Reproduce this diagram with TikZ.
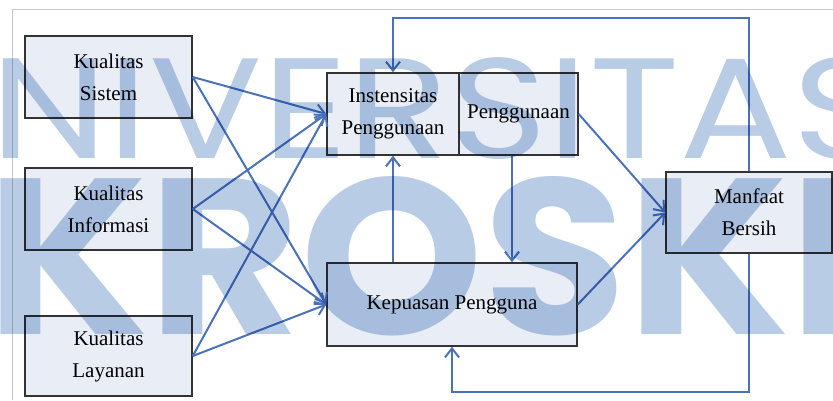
\documentclass[tikz,border=0pt]{standalone}
\usepackage{fontspec}
\setmainfont{Liberation Serif}
\newfontfamily\wmfont{Poppins}
\usetikzlibrary{arrows.meta}

\definecolor{boxfill}{HTML}{E8EDF6}
\definecolor{linkblue}{HTML}{4A72BC}
\definecolor{wmblue}{HTML}{B8CCE6}
\definecolor{framegray}{HTML}{C8C8C8}

\begin{document}
\begin{tikzpicture}
            [x=1pt, y=-1pt, >={Straight Barb[length=9pt,width=14pt]},
             box/.style={shape=rectangle, draw=black!80, line width=1.5pt, fill=boxfill,
                         align=center, inner sep=0pt, font=\fontsize{21}{32}\selectfont},
             link/.style={->, draw=linkblue, line width=2pt},
             mark text/.style={anchor=base west, inner sep=0pt, text=wmblue, transform shape}]
            \useasboundingbox (0,0) rectangle (833,400);
            \draw[framegray, line width=0.8pt] (12,400) -- (12,9.5) -- (833,9.5);

            \node[box, minimum width=167pt, minimum height=82pt] (sistem) at (108.5, 77) {Kualitas\\Sistem};
            \node[box, minimum width=167pt, minimum height=82pt] (informasi) at (108.5, 209) {Kualitas\\Informasi};
            \node[box, minimum width=167pt, minimum height=80pt] (layanan) at (108.5, 356) {Kualitas\\Layanan};
            \node[box, minimum width=132pt, minimum height=82pt] (intensitas) at (393, 114) {Instensitas\\Penggunaan};
            \node[box, minimum width=119pt, minimum height=82pt] (penggunaan) at (518.5, 114) {Penggunaan};
            \node[box, minimum width=250pt, minimum height=83pt] (kepuasan) at (452, 304.5) {Kepuasan Pengguna};
            \node[box, minimum width=166pt, minimum height=81pt] (manfaat) at (749, 212.5) {Manfaat\\Bersih};

            \path (sistem.east) edge[link] (intensitas.west);
            \path (sistem.east) edge[link] (kepuasan.west);
            \path (informasi.east) edge[link] (intensitas.west);
            \path (informasi.east) edge[link] (kepuasan.west);
            \path (layanan.east) edge[link] (intensitas.west);
            \path (layanan.east) edge[link] (kepuasan.west);
            \path (penggunaan.east) edge[link] (manfaat.west);
            \path (kepuasan.east) edge[link] (manfaat.west);
            \path ([xshift=-6.5pt]penggunaan.south) edge[link] ([xshift=-6.5pt]penggunaan.south |- kepuasan.north);
            \path (intensitas.south |- kepuasan.north) edge[link] (intensitas.south);
            \draw[link] (manfaat.north) -- ++(0,-153) -| (intensitas.north);
            \draw[link] (manfaat.south) -- ++(0,138) -| (kepuasan.south);

            % watermark
            \begin{scope}[blend mode=multiply]
                \clip (0,0) rectangle (833,400);
                \node[mark text, xscale=1.17, font=\wmfont\fontsize{143}{143}\selectfont] (marktop) at (-10, 158) {NIVERSITAS};
                \node[mark text, xscale=1.05, font=\wmfont\bfseries\fontsize{222}{222}\selectfont] (markbottom) at (-14, 334) {KROSKI};
            \end{scope}
        \end{tikzpicture}
\end{document}
